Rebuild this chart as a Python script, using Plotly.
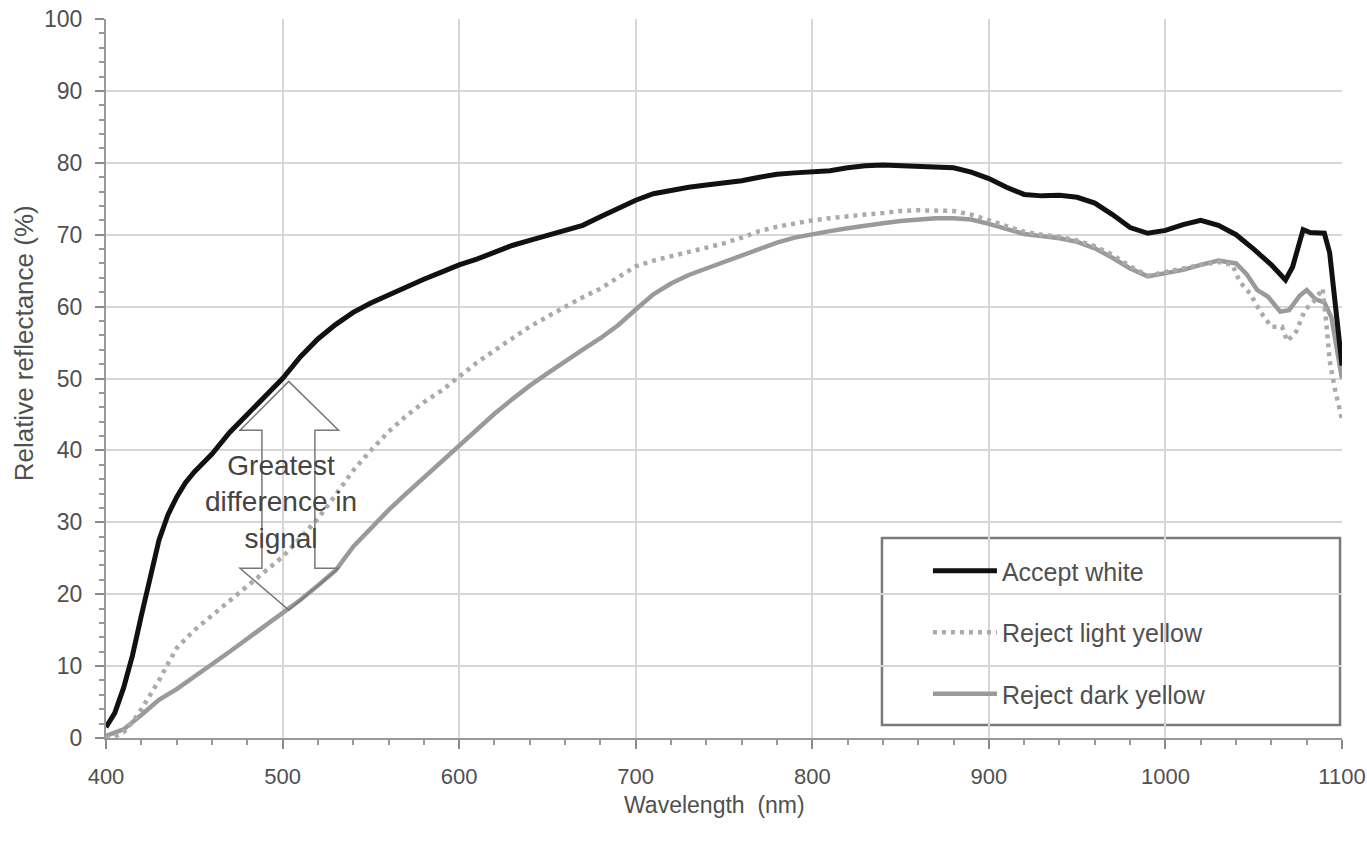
import plotly.graph_objects as go

# ---------------- data ----------------
wl_white = [400, 405, 410, 415, 420, 425, 430, 435, 440, 445, 450, 460, 470, 480, 490,
            500, 510, 520, 530, 540, 550, 560, 570, 580, 590, 600, 610, 620, 630, 640,
            650, 660, 670, 680, 690, 700, 710, 720, 730, 740, 750, 760, 770, 780, 790,
            800, 810, 820, 830, 840, 850, 860, 870, 880, 890, 900, 910, 920, 930, 940,
            950, 960, 970, 980, 990, 1000, 1010, 1020, 1030, 1040, 1050, 1060, 1068,
            1072, 1078, 1082, 1090, 1093, 1100]
refl_white = [1.5, 3.5, 7, 11.5, 17, 22.5, 27.5, 31, 33.5, 35.5, 37, 39.5, 42.5, 45, 47.5,
              50, 53, 55.5, 57.5, 59.2, 60.5, 61.6, 62.8, 63.8, 64.8, 65.8, 66.6, 67.6, 68.5, 69.2,
              69.9, 70.5, 71.3, 72.5, 73.7, 74.8, 75.7, 76.2, 76.6, 76.9, 77.2, 77.5, 78.0, 78.4, 78.6,
              78.7, 78.9, 79.3, 79.6, 79.7, 79.6, 79.5, 79.5, 79.3, 78.7, 77.8, 76.6, 75.6, 75.4, 75.5,
              75.2, 74.4, 72.8, 71.0, 70.2, 70.6, 71.4, 72.0, 71.3, 70.0, 68.0, 65.8, 63.7,
              65.5, 70.7, 70.3, 70.2, 67.5, 51.8]

wl_light = [400, 405, 410, 415, 420, 425, 430, 435, 440, 450, 460, 470, 480, 490,
            500, 510, 520, 530, 540, 550, 560, 570, 580, 590, 600, 610, 620, 630, 640,
            650, 660, 670, 680, 690, 700, 710, 720, 730, 740, 750, 760, 770, 780, 790,
            800, 810, 820, 830, 840, 850, 860, 870, 880, 890, 900, 910, 920, 930, 940,
            950, 960, 970, 980, 990, 1000, 1010, 1020, 1030, 1038, 1042, 1048, 1054, 1060,
            1066, 1069, 1074, 1079, 1085, 1089, 1091, 1093, 1096, 1100]
refl_light = [0, 0.2, 0.8, 2.2, 4, 6, 8, 10.3, 12.5, 15, 17, 19, 21, 23,
              25.2, 27.8, 30.5, 33.8, 37.2, 40, 42.6, 44.8, 46.7, 48.3, 50.2, 52.2, 53.9, 55.6, 57.2,
              58.6, 60, 61.3, 62.5, 64, 65.6, 66.4, 67, 67.6, 68.2, 68.8, 69.6, 70.5, 71.1, 71.6,
              72, 72.3, 72.6, 72.8, 73, 73.3, 73.4, 73.4, 73.3, 72.8, 72, 71.2, 70.4, 70, 69.7,
              69.2, 68.4, 67.2, 65.6, 64.3, 64.8, 65.4, 65.8, 66.2, 65.8, 63.5, 61.8, 59.2, 57.2,
              57.2, 55.2, 56.5, 59.5, 61, 62.5, 58, 52.5, 48.5, 44.3]

wl_dark = [400, 410, 420, 430, 440, 450, 460, 470, 480, 490,
           500, 510, 520, 530, 540, 550, 560, 570, 580, 590, 600, 610, 620, 630, 640,
           650, 660, 670, 680, 690, 700, 710, 720, 730, 740, 750, 760, 770, 780, 790,
           800, 810, 820, 830, 840, 850, 860, 870, 880, 890, 900, 910, 920, 930, 940,
           950, 960, 970, 980, 990, 1000, 1010, 1020, 1030, 1040, 1046, 1052, 1058, 1065,
           1070, 1076, 1080, 1085, 1090, 1094, 1100]
refl_dark = [0.3, 1.2, 3.2, 5.3, 6.8, 8.5, 10.3, 12, 13.8, 15.6,
             17.3, 19.2, 21.2, 23.3, 26.6, 29.2, 31.7, 34, 36.2, 38.5, 40.8, 43, 45.1, 47.1, 49,
             50.7, 52.4, 54, 55.6, 57.4, 59.6, 61.7, 63.2, 64.4, 65.3, 66.2, 67, 68, 68.9, 69.6,
             70.1, 70.5, 70.9, 71.3, 71.6, 71.9, 72.1, 72.3, 72.3, 72.1, 71.5, 70.8, 70.1, 69.8, 69.5,
             69, 68.1, 66.8, 65.3, 64.2, 64.6, 65.1, 65.8, 66.4, 66, 64.5, 62.3, 61.4, 59.3,
             59.5, 61.5, 62.3, 61, 60.6, 58.5, 50]

series_names = ["Accept white", "Reject light yellow", "Reject dark yellow"]
x_ticks = [400, 500, 600, 700, 800, 900, 1000, 1100]
y_ticks = [0, 10, 20, 30, 40, 50, 60, 70, 80, 90, 100]
annotation_text = "Greatest<br>difference in<br>signal"
x_title = "Wavelength  (nm)"
y_title = "Relative reflectance (%)"

FONT = "Liberation Sans, Arial, sans-serif"
TXT = "#505050"

fig = go.Figure()
fig.add_trace(go.Scatter(x=wl_dark, y=refl_dark, mode="lines", name=series_names[2],
                         line=dict(color="#9a9a9a", width=4.5), legendrank=3,
                         legendgroup="c"))
fig.add_trace(go.Scatter(x=wl_light, y=refl_light, mode="lines", name=series_names[1],
                         line=dict(color="#ababab", width=4.5, dash="4px,5px"), legendrank=2,
                         legendgroup="b"))
fig.add_trace(go.Scatter(x=wl_white, y=refl_white, mode="lines", name=series_names[0],
                         line=dict(color="#111111", width=5), legendrank=1,
                         legendgroup="a"))

# legend frame
fig.add_shape(type="rect", xref="paper", yref="paper", x0=0.6278, x1=0.9984, y0=0.0181, y1=0.2782,
              line=dict(color="#7a7a7a", width=2.5), fillcolor="white", layer="between")

# double-headed outline arrow
ax_l, ax_sl, ax_sr, ax_r = 475.9, 488.3, 518.3, 531.7
ay_top, ay_hb, ay_lb, ay_bot = 49.6, 42.8, 23.6, 17.8
ax_c = 503.5
path = (f"M {ax_c},{ay_top} L {ax_r},{ay_hb} L {ax_sr},{ay_hb} L {ax_sr},{ay_lb} "
        f"L {ax_r},{ay_lb} L {ax_c},{ay_bot} L {ax_l},{ay_lb} L {ax_sl},{ay_lb} "
        f"L {ax_sl},{ay_hb} L {ax_l},{ay_hb} Z")
fig.add_shape(type="path", path=path, xref="x", yref="y",
              line=dict(color="#777777", width=1.5), layer="above")

fig.add_annotation(x=499, y=32.8, xref="x", yref="y", text=annotation_text, showarrow=False,
                   font=dict(family=FONT, size=28, color="#444444"), align="center")

# axis titles
fig.add_annotation(x=0.4927, y=-0.0932, xref="paper", yref="paper", text=x_title, showarrow=False,
                   font=dict(family=FONT, size=23, color=TXT), xanchor="center", yanchor="middle")
fig.add_annotation(x=-0.0663, y=0.549, xref="paper", yref="paper", text=y_title, showarrow=False,
                   textangle=-90, font=dict(family=FONT, size=26, color=TXT),
                   xanchor="center", yanchor="middle")

fig.update_xaxes(range=[400, 1100], tickvals=x_ticks, ticks="outside", ticklen=9, tickwidth=2,
                 tickcolor="#8a8a8a", showline=True, linecolor="#999999", linewidth=2,
                 showgrid=True, gridcolor="#d6d6d6", gridwidth=2,
                 minor=dict(dtick=20, ticks="outside", ticklen=5, tickcolor="#9a9a9a", showgrid=False),
                 tickfont=dict(family=FONT, size=22, color=TXT), ticklabelstandoff=9,
                 ticklabeloverflow="allow", automargin=False, zeroline=False)
fig.update_yaxes(range=[0, 100], tickvals=y_ticks, ticks="outside", ticklen=9, tickwidth=2,
                 tickcolor="#8a8a8a", showline=True, linecolor="#999999", linewidth=2,
                 showgrid=True, gridcolor="#d6d6d6", gridwidth=2,
                 minor=dict(dtick=2, ticks="outside", ticklen=5, tickcolor="#9a9a9a", showgrid=False),
                 tickfont=dict(family=FONT, size=23, color=TXT), ticklabelstandoff=8,
                 ticklabeloverflow="allow", automargin=False, zeroline=False)

fig.update_layout(
    width=1367, height=842,
    margin=dict(l=106, r=25, t=19, b=104),
    paper_bgcolor="white", plot_bgcolor="white",
    font=dict(family=FONT, color=TXT),
    showlegend=True,
    legend=dict(x=0.6650, y=0.2642, xanchor="left", yanchor="top",
                bgcolor="rgba(0,0,0,0)", borderwidth=0, tracegroupgap=26, itemwidth=64,
                font=dict(family=FONT, size=25, color=TXT), traceorder="grouped"),
)

fig.write_html("out.html", config={"displayModeBar": False},
               post_script="document.body.style.margin='0';document.body.style.overflow='hidden';")
